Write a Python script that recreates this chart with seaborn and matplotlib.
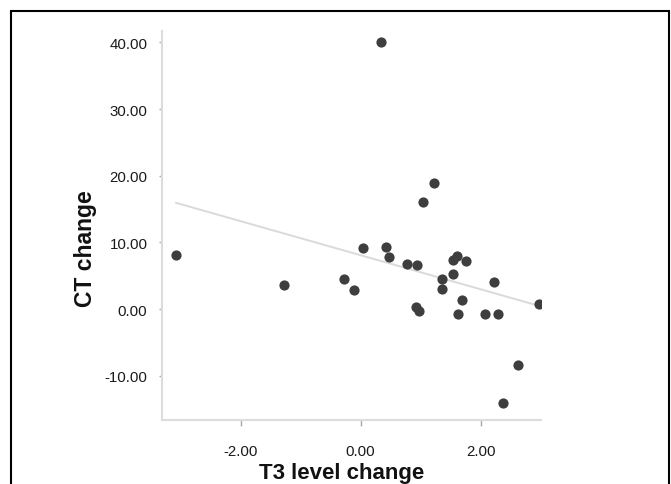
import matplotlib
matplotlib.use("Agg")
import matplotlib.pyplot as plt
import seaborn as sns
import pandas as pd
from matplotlib.patches import Rectangle

# Change in T3 level vs. change in CT, one point per subject
t3_change = [-3.08, -1.28, -0.27, -0.11, 0.04, 0.43, 0.48, 0.77, 0.94, 0.92,
             0.98, 1.04, 1.22, 1.35, 1.35, 1.54, 1.54, 1.60, 1.76, 1.69,
             1.63, 2.08, 2.23, 2.29, 2.98, 2.62, 2.37, 0.34]
ct_change = [8.10, 3.65, 4.45, 2.90, 9.20, 9.25, 7.75, 6.80, 6.55, 0.35,
             -0.35, 16.00, 18.95, 4.55, 2.95, 5.25, 7.40, 8.00, 7.25, 1.40,
             -0.70, -0.70, 4.00, -0.70, 0.80, -8.35, -14.15, 40.00]

x_ticks = [-2, 0, 2]
y_ticks = [-10, 0, 10, 20, 30, 40]
x_tick_labels = [f"{v:.2f}" for v in x_ticks]
y_tick_labels = [f"{v:.2f}" for v in y_ticks]

x_label = "T3 level change"
y_label = "CT change"

sns.set_theme(style="white")
plt.rcParams["font.family"] = ["Liberation Sans", "DejaVu Sans"]

fig = plt.figure(figsize=(6.71, 4.85), dpi=100)
ax = fig.add_axes([162 / 671, 64 / 485, 378.7 / 671, 389 / 485])

df = pd.DataFrame({x_label: t3_change, y_label: ct_change})
sns.regplot(
    data=df, x=x_label, y=y_label, ci=None, ax=ax,
    scatter_kws=dict(s=54, color="#3e3e3e", linewidths=0, alpha=1, zorder=3),
    line_kws=dict(color="#dadada", lw=1.4, zorder=2),
)

ax.set_xlim(-3.31, 3.0)
ax.set_ylim(-16.65, 41.7)

ax.set_xticks(x_ticks)
ax.set_xticklabels(x_tick_labels)
ax.set_yticks(y_ticks)
ax.set_yticklabels(y_tick_labels)

ax.tick_params(axis="x", bottom=True, length=4.5, width=1.0, color="#a8a8a8",
               pad=12.5, labelsize=10.8, labelcolor="#1a1a1a")
ax.tick_params(axis="y", left=True, length=2.5, width=1.0, color="#a8a8a8",
               pad=8, labelsize=10.8, labelcolor="#1a1a1a")

for side in ("top", "right"):
    ax.spines[side].set_visible(False)
for side in ("left", "bottom"):
    ax.spines[side].set_color("#dcdcdc")
    ax.spines[side].set_linewidth(1.5)

ax.set_xlabel(x_label, fontsize=16, fontweight="bold", color="#111111")
ax.set_ylabel(y_label, fontsize=16.5, fontweight="bold", color="#111111")
ax.xaxis.label.set_va("bottom")
ax.yaxis.label.set_va("center")
ax.xaxis.set_label_coords(0.473, -0.1615)
ax.yaxis.set_label_coords(-0.203, 0.444)

# Black frame around the whole panel (open at the bottom edge)
fig.patches.append(Rectangle((11 / 671, -0.1), (669 - 11) / 671, 1.1 - 12 / 485,
                             transform=fig.transFigure, fill=False,
                             edgecolor="black", lw=1.5))

fig.savefig("out.png", dpi=100)
